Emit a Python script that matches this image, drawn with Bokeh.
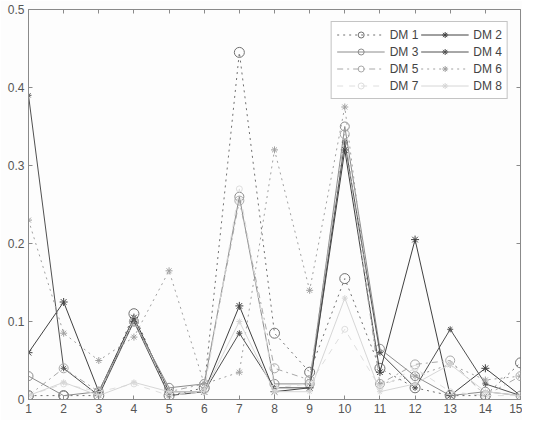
from bokeh.plotting import figure
from bokeh.models import Legend, LegendItem, LinearAxis, FixedTicker, Range1d
from bokeh.embed import file_html
from bokeh.resources import INLINE

x = list(range(1, 16))
dm1 = [0.005, 0.005, 0.005, 0.11, 0.005, 0.015, 0.445, 0.085, 0.035, 0.155, 0.04, 0.015, 0.005, 0.005, 0.047]
dm2 = [0.06, 0.125, 0.01, 0.105, 0.01, 0.01, 0.12, 0.01, 0.015, 0.32, 0.035, 0.205, 0.005, 0.04, 0.005]
dm3 = [0.03, 0.005, 0.01, 0.10, 0.015, 0.02, 0.26, 0.02, 0.02, 0.35, 0.065, 0.03, 0.005, 0.01, 0.005]
dm4 = [0.39, 0.04, 0.005, 0.10, 0.005, 0.01, 0.085, 0.015, 0.015, 0.33, 0.06, 0.015, 0.09, 0.02, 0.005]
dm5 = [0.005, 0.04, 0.01, 0.10, 0.01, 0.02, 0.255, 0.04, 0.025, 0.34, 0.02, 0.045, 0.05, 0.005, 0.03]
dm6 = [0.23, 0.085, 0.05, 0.08, 0.165, 0.02, 0.035, 0.32, 0.14, 0.375, 0.02, 0.03, 0.045, 0.025, 0.03]
dm7 = [0.005, 0.02, 0.01, 0.02, 0.005, 0.01, 0.27, 0.015, 0.02, 0.09, 0.015, 0.04, 0.01, 0.005, 0.005]
dm8 = [0.005, 0.022, 0.005, 0.022, 0.01, 0.01, 0.10, 0.01, 0.01, 0.13, 0.01, 0.02, 0.045, 0.01, 0.005]
names = ["DM 1", "DM 2", "DM 3", "DM 4", "DM 5", "DM 6", "DM 7", "DM 8"]
series = [dm1, dm2, dm3, dm4, dm5, dm6, dm7, dm8]
colors = ["#707070", "#404040", "#8c8c8c", "#505050", "#a8a8a8", "#a0a0a0", "#dedede", "#d6d6d6"]
dashes = ["dotted", "solid", "solid", "solid", "dashdot", "dotted", "dashed", "solid"]
markers = ["circle", "asterisk", "circle", "asterisk", "circle", "asterisk", "circle", "asterisk"]
msizes = [10, 8, 9, 6, 9, 7, 6, 6]
ytick_vals = [0, 0.1, 0.2, 0.3, 0.4, 0.5]

p = figure(width=522, height=420, output_backend="svg", toolbar_location=None,
           x_range=Range1d(1, 15), y_range=Range1d(0, 0.5),
           min_border_left=28, min_border_right=2, min_border_top=9, min_border_bottom=21)
p.background_fill_color = "#fdfdfd"
p.border_fill_color = "#fdfdfd"
p.outline_line_color = "#8a8a8a"
p.xgrid.visible = False
p.ygrid.visible = False

items = {}
for s, nm, c, d, m, ms in zip(series, names, colors, dashes, markers, msizes):
    r1 = p.line(x, s, line_color=c, line_dash=d, line_width=1)
    r2 = p.scatter(x, s, marker=m, size=ms, line_color=c, fill_color=None, line_width=1)
    items[nm] = LegendItem(label=nm, renderers=[r1, r2])

for ax in (p.xaxis[0], p.yaxis[0]):
    ax.axis_line_color = "#8a8a8a"
    ax.major_tick_in = 4
    ax.major_tick_out = 0
    ax.minor_tick_line_color = None
    ax.major_tick_line_color = "#8a8a8a"
    ax.major_label_text_font = "Liberation Sans"
    ax.major_label_text_font_size = "12px"
    ax.major_label_text_color = "#555555"
    ax.major_label_standoff = 4
p.xaxis[0].ticker = FixedTicker(ticks=x)
p.yaxis[0].ticker = FixedTicker(ticks=ytick_vals)
p.yaxis[0].major_label_overrides = {0: "0", 0.1: "0.1", 0.2: "0.2", 0.3: "0.3", 0.4: "0.4", 0.5: "0.5"}

top = LinearAxis(ticker=FixedTicker(ticks=x), major_label_overrides={t: "" for t in x},
                 major_tick_in=4, major_tick_out=0, minor_tick_line_color=None,
                 axis_line_color=None, major_tick_line_color="#8a8a8a")
right = LinearAxis(ticker=FixedTicker(ticks=ytick_vals), major_label_overrides={t: "" for t in ytick_vals},
                   major_tick_in=4, major_tick_out=0, minor_tick_line_color=None,
                   axis_line_color=None, major_tick_line_color="#8a8a8a")
p.add_layout(top, "above")
p.add_layout(right, "right")

order = ["DM 1", "DM 3", "DM 5", "DM 7", "DM 2", "DM 4", "DM 6", "DM 8"]
leg = Legend(items=[items[n] for n in order], ncols=2, location="top_right")
leg.margin = 12
leg.padding = 5
leg.spacing = 2
leg.label_text_font = "Liberation Sans"
leg.label_text_font_size = "12px"
leg.label_text_color = "#444444"
leg.label_height = 15
leg.glyph_height = 15
leg.glyph_width = 48
leg.label_standoff = 5
leg.border_line_color = "#8a8a8a"
leg.background_fill_color = "#ffffff"
p.add_layout(leg)

open("out.html", "w").write(file_html(p, INLINE))
